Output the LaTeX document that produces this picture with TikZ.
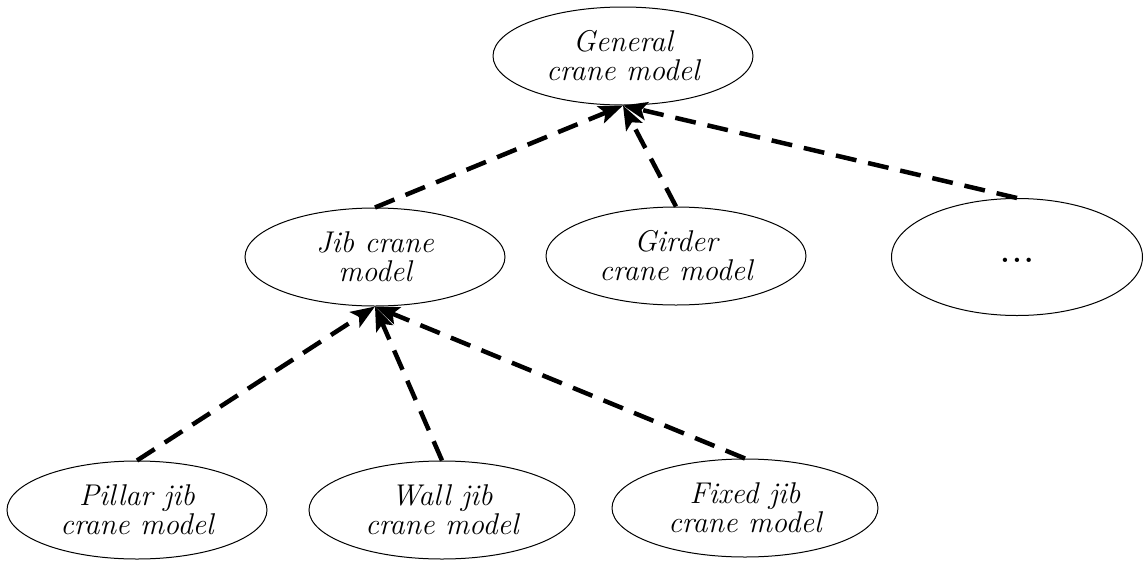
\documentclass[tikz,border=0pt]{standalone}
\usepackage{fontspec}
\setmainfont{Latin Modern Roman}
\usetikzlibrary{shapes.geometric,arrows.meta}
\begin{document}
\begin{tikzpicture}[x=1pt,y=-1pt,
  model/.style={draw, ellipse, line width=1pt, inner sep=0pt,
    minimum width=260pt, minimum height=98pt, align=center,
    font=\fontsize{30}{29}\selectfont\itshape},
  derives/.style={line width=4.5pt, dash pattern=on 21pt off 12pt,
    -{Stealth[length=24pt,width=18pt,inset=5pt]}}]
  \useasboundingbox (0,0) rectangle (1144,560);
  % hierarchy of crane models
  \node[model] (gen) at (623,56) {General\\crane model};
  \node[model] (jib) at (375,257) {Jib crane\\model};
  \node[model] (gird) at (676,256) {Girder\\crane model};
  \node[model, minimum width=251pt, minimum height=117pt] (more) at (1017,257)
    {\raisebox{-10pt}{\upshape\bfseries .\hspace{2.5pt}.\hspace{2.5pt}.}};
  \node[model] (pil) at (137,510) {Pillar jib\\crane model};
  \node[model, minimum width=266pt] (wall) at (442,510) {Wall jib\\crane model};
  \node[model, minimum width=266pt] (fix) at (745,508) {Fixed jib\\crane model};
  % specialisation links, pointing to the parent model
  \draw[derives] (jib.north) -- (gen.south);
  \draw[derives] (gird.north) -- (gen.south);
  \draw[derives] (more.north) -- (gen.south);
  \draw[derives] (pil.north) -- (jib.south);
  \draw[derives] (wall.north) -- (jib.south);
  \draw[derives] (fix.north) -- (jib.south);
\end{tikzpicture}
\end{document}
